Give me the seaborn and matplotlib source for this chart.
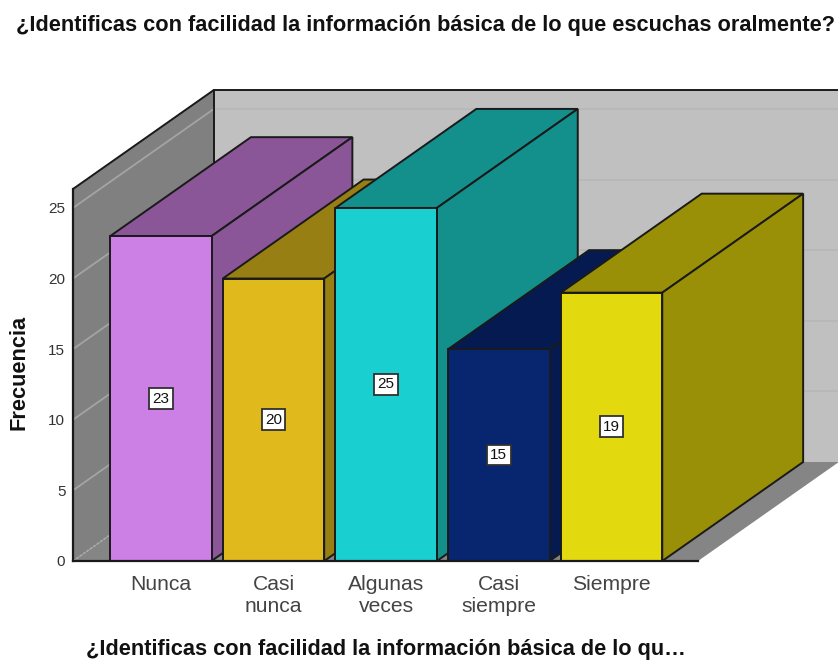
import matplotlib
matplotlib.use("Agg")
import matplotlib.pyplot as plt
import seaborn as sns
from matplotlib.patches import Polygon

categories = ["Nunca", "Casi\nnunca", "Algunas\nveces", "Casi\nsiempre", "Siempre"]
counts = [23, 20, 25, 15, 19]
front_colors = ["#cc7fe5", "#e0b91c", "#1acfcf", "#082670", "#e3d90f"]
shade_colors = ["#8b5698", "#977f14", "#13908c", "#051a50", "#9a9008"]
y_ticks = [0, 5, 10, 15, 20, 25]
title = "¿Identificas con facilidad la información básica de lo que escuchas oralmente?"
x_title = "¿Identificas con facilidad la información básica de lo qu…"
y_title = "Frecuencia"

W, H = 838, 660
sns.set_theme(style="white")
plt.rcParams["font.family"] = ["Liberation Sans", "DejaVu Sans"]

fig = plt.figure(figsize=(W / 100, H / 100), dpi=100, facecolor="white")
ax = fig.add_axes([73 / W, (H - 561) / H, 625 / W, 372 / H])
ax.patch.set_visible(False)

sns.barplot(x=categories, y=counts, hue=categories, palette=front_colors, width=0.9,
            saturation=1, legend=False, edgecolor="#1a1a1a", linewidth=1.4, ax=ax)

XMIN, XMAX, YMAX = -0.779, 4.767, 26.34
ax.set_xlim(XMIN, XMAX)
ax.set_ylim(0, YMAX)
DX, DY = 1.25, 7.01   # oblique depth of the 3-D box, in data units

WALL_BACK = "#c0c0c0"
WALL_SIDE = "#808080"
EDGE = "#1a1a1a"


def face(points, color, z, edge=EDGE, lw=1.4):
    ax.add_patch(Polygon(points, closed=True, facecolor=color, edgecolor=edge,
                         linewidth=lw, zorder=z, clip_on=False))


# walls and floor
face([(XMIN + DX, DY), (XMAX + DX, DY), (XMAX + DX, YMAX + DY), (XMIN + DX, YMAX + DY)],
     WALL_BACK, 0.2, edge="none")
face([(XMIN, 0), (XMIN + DX, DY), (XMIN + DX, YMAX + DY), (XMIN, YMAX)],
     WALL_SIDE, 0.3, edge="none")
face([(XMIN, 0), (XMAX, 0), (XMAX + DX, DY), (XMIN + DX, DY)],
     "#858585", 0.3, edge="none")

for t in y_ticks:
    if t == 0:
        ax.plot([XMIN, XMIN + DX], [0, DY], color="#aaaaaa", lw=1.2, ls=(0, (1.5, 1)),
                zorder=0.5, clip_on=False)
        continue
    ax.plot([XMIN, XMIN + DX], [t, t + DY], color="#a4a4a4", lw=1.3, zorder=0.5, clip_on=False)
    ax.plot([XMIN + DX, XMAX + DX], [t + DY, t + DY], color="#b8b8b8", lw=1.4, zorder=0.5,
            clip_on=False)

# wall outlines
for xs, ys in [([XMIN, XMIN + DX], [YMAX, YMAX + DY]),
               ([XMIN + DX, XMAX + DX], [YMAX + DY, YMAX + DY]),
               ([XMIN + DX, XMIN + DX], [DY, YMAX + DY])]:
    ax.plot(xs, ys, color=EDGE, lw=1.4, zorder=0.6, clip_on=False)

# bars: seaborn draws the front faces, depth faces follow from the same rectangles
for i, bar in enumerate(ax.patches[:len(counts)]):
    x0, w, h = bar.get_x(), bar.get_width(), bar.get_height()
    x1 = x0 + w
    bar.set_zorder(2 + i + 0.5)
    face([(x0, h), (x1, h), (x1 + DX, h + DY), (x0 + DX, h + DY)], shade_colors[i], 2 + i)
    face([(x1, 0), (x1 + DX, DY), (x1 + DX, h + DY), (x1, h)], shade_colors[i], 2 + i)
    ax.text(x0 + w / 2, h / 2, str(counts[i]), ha="center", va="center", fontsize=11,
            color="#111111", zorder=20,
            bbox=dict(boxstyle="square,pad=0.22", facecolor="white", edgecolor="#303030", linewidth=1.3))

# axes dressing
sns.despine(ax=ax, top=True, right=True)
for side in ("left", "bottom"):
    ax.spines[side].set_color(EDGE)
    ax.spines[side].set_linewidth(1.6)
    ax.spines[side].set_zorder(30)
ax.set_yticks(y_ticks)
ax.tick_params(axis="y", length=0, pad=5.5, labelsize=11, labelcolor="#333333")
ax.tick_params(axis="x", length=0, pad=10, labelsize=15.2, labelcolor="#444444")
for lab in ax.get_xticklabels():
    lab.set_linespacing(1.18)

ax.set_ylabel(y_title, fontsize=15.7, fontweight="bold", color="#111111")
ax.yaxis.set_label_coords((29 - 73) / 625, (561 - 372) / 372)
ax.set_xlabel(x_title, fontsize=15.7, fontweight="bold", color="#111111", va="center")
ax.xaxis.set_label_coords((385.5 - 73) / 625, (561 - 650) / 372)
ax.set_title(title, fontsize=15.7, fontweight="bold", color="#111111", va="center",
             x=(425 - 73) / 625, y=(561 - 25) / 372, pad=0)

fig.savefig("out.png", dpi=100, facecolor="white")
